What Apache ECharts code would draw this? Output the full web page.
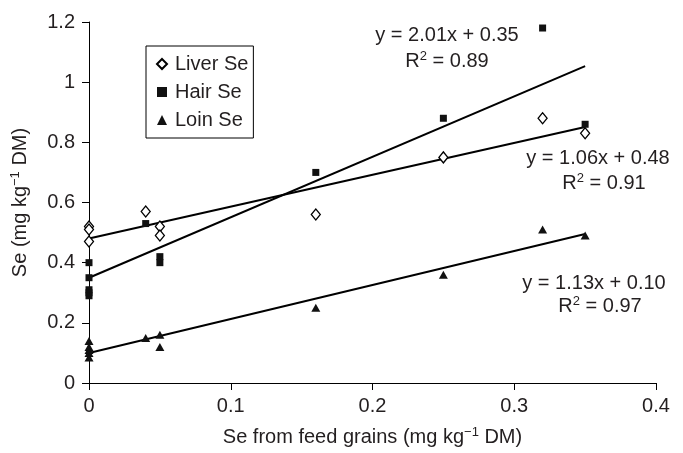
<!DOCTYPE html>
<html>
<head>
<meta charset="utf-8">
<script src="https://cdn.jsdelivr.net/npm/echarts@6/dist/echarts.min.js"></script>
<style>
html,body{margin:0;padding:0;background:#fff;}
#chart{width:683px;height:453px;}
</style>
</head>
<body>
<div id="chart"></div>
<script>
// ---- data ----
const liverX = [0, 0, 0, 0.04, 0.05, 0.05, 0.16, 0.25, 0.32, 0.35];
const liverY = [0.52, 0.51, 0.47, 0.57, 0.52, 0.49, 0.56, 0.75, 0.88, 0.83];
const hairX = [0, 0, 0, 0, 0, 0.04, 0.05, 0.05, 0.16, 0.25, 0.32, 0.35];
const hairY = [0.40, 0.35, 0.31, 0.30, 0.29, 0.53, 0.42, 0.40, 0.70, 0.88, 1.18, 0.86];
const loinX = [0, 0, 0, 0, 0, 0.04, 0.05, 0.05, 0.16, 0.25, 0.32, 0.35];
const loinY = [0.14, 0.12, 0.11, 0.10, 0.085, 0.15, 0.16, 0.12, 0.25, 0.36, 0.51, 0.49];
// regression lines as printed on the chart: [slope, intercept, R2]
const hairFit = [2.01, 0.35, 0.89];
const liverFit = [1.06, 0.48, 0.91];
const loinFit = [1.13, 0.10, 0.97];
const fitRange = [0, 0.35];
const xTicks = [0, 0.1, 0.2, 0.3, 0.4];
const yTicks = [0, 0.2, 0.4, 0.6, 0.8, 1, 1.2];

const FONT = 'Liberation Sans, Arial, Helvetica, sans-serif';
const TXT = '#231f20';
const FS = 20;
const zip = (xs, ys) => xs.map((x, i) => [x, ys[i]]);
const fitLine = f => fitRange.map(x => [x, +(f[0] * x + f[1]).toFixed(4)]);
const richBase = {
  a: {fontSize: FS, fontFamily: FONT, color: TXT, lineHeight: 22},
  s: {fontSize: 13, fontFamily: FONT, color: TXT, lineHeight: 22, verticalAlign: 'top'}
};
const eqText = f => '{a|y = ' + f[0].toFixed(2) + 'x + ' + f[1].toFixed(2) + '}';
const r2Text = f => '{a|R}{s|2}{a| = ' + f[2].toFixed(2) + '}';
const label = (t, x, y) => ({
  type: 'text', x: x, y: y, z: 100,
  style: {text: t, rich: richBase, align: 'center', verticalAlign: 'middle', fill: TXT}
});

const chart = echarts.init(document.getElementById('chart'), null, {renderer: 'canvas'});
chart.setOption({
  animation: false,
  backgroundColor: '#fff',
  grid: {left: 89, right: 27, top: 22, bottom: 70, containLabel: false},
  xAxis: {
    type: 'value', min: xTicks[0], max: xTicks[xTicks.length - 1], interval: 0.1,
    splitLine: {show: false},
    axisLine: {lineStyle: {color: '#000', width: 1}},
    axisTick: {length: 7, lineStyle: {color: '#000'}},
    axisLabel: {fontSize: FS, fontFamily: FONT, color: TXT, margin: 13},
    name: '{a|Se from feed grains (mg kg}{s|−1}{a| DM)}',
    nameLocation: 'middle', nameGap: 43,
    nameTextStyle: {rich: richBase}
  },
  yAxis: {
    type: 'value', min: yTicks[0], max: yTicks[yTicks.length - 1], interval: 0.2,
    splitLine: {show: false},
    axisLine: {show: true, lineStyle: {color: '#000', width: 1}},
    axisTick: {show: true, length: 7, lineStyle: {color: '#000'}},
    axisLabel: {fontSize: FS, fontFamily: FONT, color: TXT, margin: 14},
    name: '{a|Se (mg kg}{s|−1}{a| DM)}',
    nameLocation: 'middle', nameGap: 58, nameRotate: 90,
    nameTextStyle: {rich: richBase}
  },
  legend: {
    orient: 'vertical', left: 146, top: 46,
    padding: [8, 5, 8, 10], itemGap: 8, itemWidth: 10, itemHeight: 10,
    borderColor: '#000', borderWidth: 1, backgroundColor: '#fff',
    textStyle: {fontSize: FS, fontFamily: FONT, color: TXT, padding: [0, 0, 0, 3]},
    data: [
      {name: 'Liver Se', icon: 'diamond'},
      {name: 'Hair Se', icon: 'rect'},
      {name: 'Loin Se', icon: 'triangle'}
    ]
  },
  series: [
    {name: 'Hair fit', type: 'line', data: fitLine(hairFit), symbol: 'none',
     lineStyle: {color: '#000', width: 2}, z: 1},
    {name: 'Liver fit', type: 'line', data: fitLine(liverFit), symbol: 'none',
     lineStyle: {color: '#000', width: 2}, z: 1},
    {name: 'Loin fit', type: 'line', data: fitLine(loinFit), symbol: 'none',
     lineStyle: {color: '#000', width: 2}, z: 1},
    {name: 'Liver Se', type: 'scatter', data: zip(liverX, liverY), symbol: 'diamond',
     symbolSize: [9, 11], itemStyle: {color: '#fff', borderColor: '#000', borderWidth: 1.3, opacity: 1}, z: 3},
    {name: 'Hair Se', type: 'scatter', data: zip(hairX, hairY), symbol: 'rect',
     symbolSize: 7, itemStyle: {color: '#111', opacity: 1}, z: 4},
    {name: 'Loin Se', type: 'scatter', data: zip(loinX, loinY), symbol: 'triangle',
     symbolSize: [9, 8], itemStyle: {color: '#111', opacity: 1}, z: 4}
  ],
  graphic: [
    label(eqText(hairFit), 447, 35),
    label(r2Text(hairFit), 447, 61),
    label(eqText(liverFit), 598, 158),
    label(r2Text(liverFit), 604, 183),
    label(eqText(loinFit), 594, 283),
    label(r2Text(loinFit), 600, 306)
  ]
});
</script>
</body>
</html>
